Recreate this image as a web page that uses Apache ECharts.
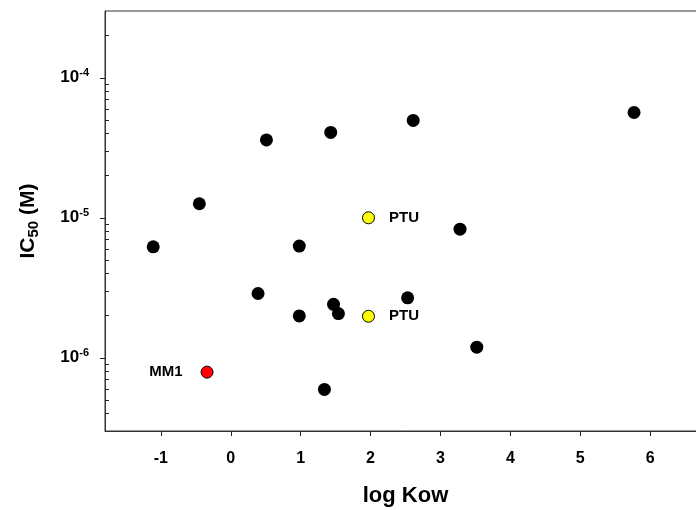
<!DOCTYPE html>
<html>
<head>
<meta charset="utf-8">
<script src="https://cdn.jsdelivr.net/npm/echarts@6/dist/echarts.min.js"></script>
<style>
  html, body { margin: 0; padding: 0; background: #fff; }
  #chart { width: 696px; height: 510px; }
</style>
</head>
<body>
<div id="chart"></div>
<script>
// Compounds: octanol/water partition (log Kow) vs. IC50 in molar units
const logKow = [-1.11, -0.45, 0.51, 1.43, 2.61, 5.77, 0.98, 3.28, 0.39, 0.98, 1.47, 1.54, 2.53, 3.52, 1.34];
const ic50 = [6.2e-6, 1.26e-5, 3.6e-5, 4.07e-5, 4.96e-5, 5.65e-5, 6.28e-6, 8.3e-6, 2.88e-6, 1.99e-6, 2.41e-6, 2.07e-6, 2.68e-6, 1.19e-6, 5.94e-7];

// PTU measurements (yellow)
const ptuNames = ['PTU', 'PTU'];
const ptuLogKow = [1.97, 1.97];
const ptuIc50 = [1.0e-5, 1.98e-6];

// MM1 (red)
const mm1Names = ['MM1'];
const mm1LogKow = [-0.34];
const mm1Ic50 = [7.9e-7];

// Axis ticks
const xTicks = [-1, 0, 1, 2, 3, 4, 5, 6];
const yMajorExp = [-6, -5, -4];
const yMinorValues = [4e-7, 5e-7, 6e-7, 7e-7, 8e-7, 9e-7,
  2e-6, 3e-6, 4e-6, 5e-6, 6e-6, 7e-6, 8e-6, 9e-6,
  2e-5, 3e-5, 4e-5, 5e-5, 6e-5, 7e-5, 8e-5, 9e-5,
  2e-4];
const yMin = 3e-7;
const yMax = 3e-4;

const FONT = '"Liberation Sans", Arial, sans-serif';
const lg = Math.log10;

function points(xs, ys, names) {
  return xs.map((x, i) => ({ value: [x, lg(ys[i])], name: names ? names[i] : '' }));
}

const chart = echarts.init(document.getElementById('chart'), null, { renderer: 'canvas' });

const yBase = {
  type: 'value',
  position: 'left',
  min: lg(yMin),
  max: lg(yMax),
  splitLine: { show: false }
};

chart.setOption({
  animation: false,
  backgroundColor: '#fff',
  textStyle: { fontFamily: FONT },
  grid: {
    left: 105, top: 11, bottom: 79, right: -24,
    outerBoundsMode: 'none',
    containLabel: false,
    show: true, borderColor: '#333', borderWidth: 1, backgroundColor: 'transparent'
  },
  xAxis: {
    type: 'value',
    min: -1.8,
    max: 7,
    splitLine: { show: false },
    axisLine: { onZero: false, lineStyle: { color: '#333', width: 1 } },
    axisTick: { customValues: xTicks, length: 5, lineStyle: { color: '#222' } },
    axisLabel: {
      customValues: xTicks, margin: 20,
      fontSize: 16, fontWeight: 'bold', color: '#000', fontFamily: FONT
    },
    name: 'log Kow',
    nameLocation: 'middle',
    nameGap: 54,
    nameTextStyle: { fontSize: 22, fontWeight: 'bold', color: '#000', fontFamily: FONT, padding: [0, 14, 0, 0] }
  },
  yAxis: [
    Object.assign({}, yBase, {
      axisLine: { onZero: false, lineStyle: { color: '#333', width: 1 } },
      axisTick: { customValues: yMajorExp, length: 5, lineStyle: { color: '#222' } },
      axisLabel: {
        customValues: yMajorExp, margin: 16,
        formatter: v => '{b|10}{s|' + Math.round(v) + '}',
        rich: {
          b: { fontSize: 17, fontWeight: 'bold', color: '#000', fontFamily: FONT, lineHeight: 20 },
          s: { fontSize: 11, fontWeight: 'bold', color: '#000', fontFamily: FONT, lineHeight: 12, verticalAlign: 'top' }
        }
      },
      name: '{m|IC}{u|50}{m| (M)}',
      nameLocation: 'middle',
      nameGap: 64,
      nameTextStyle: {
        rich: {
          m: { fontSize: 21, fontWeight: 'bold', color: '#000', fontFamily: FONT, lineHeight: 26 },
          u: { fontSize: 15, fontWeight: 'bold', color: '#000', fontFamily: FONT, lineHeight: 14, verticalAlign: 'bottom' }
        }
      }
    }),
    Object.assign({}, yBase, {
      axisLine: { show: false, onZero: false },
      axisTick: { inside: true, customValues: yMinorValues.map(lg), length: 4, lineStyle: { color: '#222' } },
      axisLabel: { show: false }
    })
  ],
  series: [
    {
      type: 'scatter',
      symbolSize: 13,
      itemStyle: { color: '#000', opacity: 1 },
      data: points(logKow, ic50)
    },
    {
      type: 'scatter',
      symbolSize: 12,
      itemStyle: { color: '#ffff00', borderColor: '#000', borderWidth: 1, opacity: 1 },
      label: {
        show: true, position: 'right', distance: 14, formatter: '{b}',
        fontSize: 15, fontWeight: 'bold', color: '#000', fontFamily: FONT
      },
      data: points(ptuLogKow, ptuIc50, ptuNames)
    },
    {
      type: 'scatter',
      symbolSize: 12,
      itemStyle: { color: '#ff0000', borderColor: '#000', borderWidth: 1, opacity: 1 },
      label: {
        show: true, position: 'left', distance: 18, formatter: '{b}',
        fontSize: 15, fontWeight: 'bold', color: '#000', fontFamily: FONT
      },
      data: points(mm1LogKow, mm1Ic50, mm1Names)
    }
  ]
});
</script>
</body>
</html>
